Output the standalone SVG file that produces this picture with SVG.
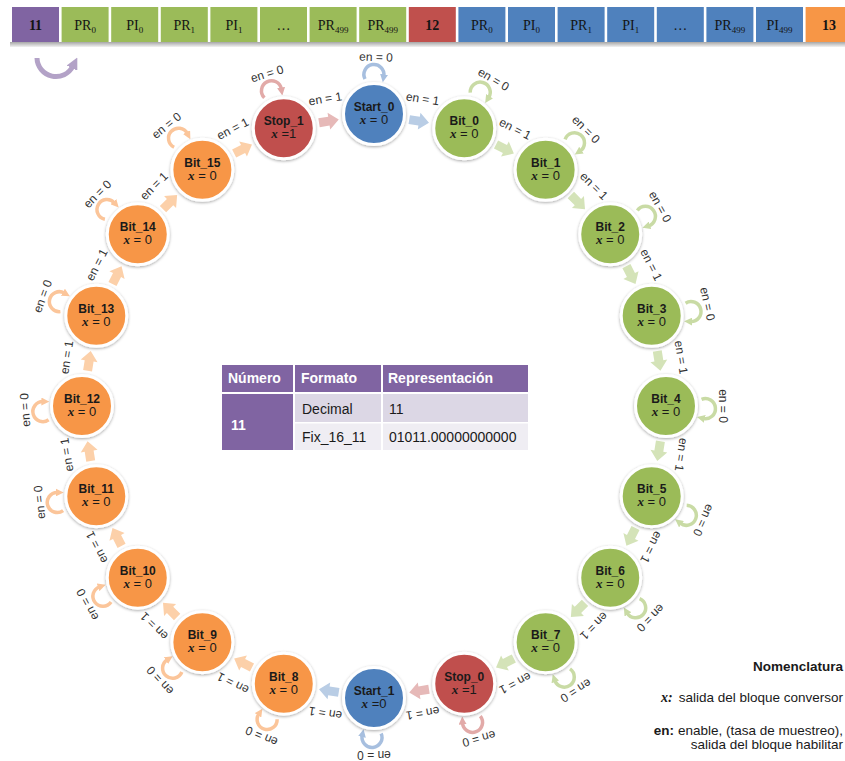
<svg xmlns="http://www.w3.org/2000/svg" xmlns:xlink="http://www.w3.org/1999/xlink" width="845" height="761" viewBox="0 0 845 761">
<style>
.bx{stroke:none}
.bt{font-family:"Liberation Serif","DejaVu Serif",serif;font-size:14px;fill:#141414;text-anchor:middle}
.bn{font-family:"Liberation Serif","DejaVu Serif",serif;font-size:14px;font-weight:bold;fill:#141414;text-anchor:middle}
.nm{font-family:"Liberation Sans",Arial,sans-serif;font-size:12px;font-weight:bold;fill:#1a1a1a;text-anchor:middle}
.xv{font-family:"Liberation Sans",Arial,sans-serif;font-size:13px;fill:#1a1a1a;text-anchor:middle}
.xi{font-family:"Liberation Serif","DejaVu Serif",serif;font-style:italic;font-weight:bold}
.lb{font-family:"Liberation Sans",Arial,sans-serif;font-size:12px;fill:#333;text-anchor:middle}
.nd circle{stroke:#fff;stroke-width:3;filter:url(#sh)}
.cB{fill:#4f81bd}.cG{fill:#9bbb59}.cR{fill:#c0504d}.cO{fill:#f79646}
.lp{fill:none;stroke-width:3.5}
.lB{stroke:#a7bfdf;marker-end:url(#mB)}.lG{stroke:#c9dba5;marker-end:url(#mG)}
.lR{stroke:#e2aaa8;marker-end:url(#mR)}.lO{stroke:#fbc59a;marker-end:url(#mO)}
.tB{fill:#b9cde5}.tG{fill:#d4e3b8}.tR{fill:#e6b9b8}.tO{fill:#fcd0a9}
.th{font-family:"Liberation Sans",Arial,sans-serif;font-size:14px;font-weight:bold;fill:#fff}
.td{font-family:"Liberation Sans",Arial,sans-serif;font-size:14px;fill:#1a1a1a}
.lg{font-family:"Liberation Sans",Arial,sans-serif;font-size:13.5px;fill:#1a1a1a;text-anchor:end}
</style>
<defs>
<filter id="sh" x="-40%" y="-40%" width="180%" height="180%"><feDropShadow dx="0" dy="1" stdDeviation="1.8" flood-color="#000" flood-opacity="0.35"/></filter>
<marker id="mB" viewBox="0 0 10 10" refX="2" refY="5" markerUnits="userSpaceOnUse" markerWidth="8" markerHeight="8" orient="auto"><path d="M0,0L10,5L0,10z" fill="#a7bfdf"/></marker>
<marker id="mG" viewBox="0 0 10 10" refX="2" refY="5" markerUnits="userSpaceOnUse" markerWidth="8" markerHeight="8" orient="auto"><path d="M0,0L10,5L0,10z" fill="#c9dba5"/></marker>
<marker id="mR" viewBox="0 0 10 10" refX="2" refY="5" markerUnits="userSpaceOnUse" markerWidth="8" markerHeight="8" orient="auto"><path d="M0,0L10,5L0,10z" fill="#e2aaa8"/></marker>
<marker id="mO" viewBox="0 0 10 10" refX="2" refY="5" markerUnits="userSpaceOnUse" markerWidth="8" markerHeight="8" orient="auto"><path d="M0,0L10,5L0,10z" fill="#fbc59a"/></marker>
<marker id="mP" viewBox="0 0 10 10" refX="2" refY="5" markerUnits="userSpaceOnUse" markerWidth="12" markerHeight="12" orient="auto"><path d="M0,0L10,5L0,10z" fill="#b3a2c7"/></marker>
<polygon id="ar" points="-10,-4.5 0,-4.5 0,-8.5 10,0 0,8.5 0,4.5 -10,4.5"/>
<path id="loop" d="M-9,-35 A10,10 0 1 1 9.8,-38"/>
<linearGradient id="shd" x1="0" y1="0" x2="0" y2="1"><stop offset="0" stop-color="#a6a6a6"/><stop offset="1" stop-color="#f2f2f2"/></linearGradient>
</defs>
<rect width="845" height="761" fill="#fff"/>

<!-- top bar -->
<g id="bar">
<rect x="10" y="42" width="835" height="5" fill="url(#shd)"/>
<rect class="bx" x="12" y="7" width="47" height="35" fill="#8064a2"/><text class="bn" x="35.5" y="30">11</text>
<rect class="bx" x="61.6" y="7" width="47" height="35" fill="#9bbb59"/><text class="bt" x="85.1" y="30">PR<tspan font-size="9" dy="3">0</tspan></text>
<rect class="bx" x="111.2" y="7" width="47" height="35" fill="#9bbb59"/><text class="bt" x="134.7" y="30">PI<tspan font-size="9" dy="3">0</tspan></text>
<rect class="bx" x="160.8" y="7" width="47" height="35" fill="#9bbb59"/><text class="bt" x="184.3" y="30">PR<tspan font-size="9" dy="3">1</tspan></text>
<rect class="bx" x="210.4" y="7" width="47" height="35" fill="#9bbb59"/><text class="bt" x="233.9" y="30">PI<tspan font-size="9" dy="3">1</tspan></text>
<rect class="bx" x="260" y="7" width="47" height="35" fill="#9bbb59"/><text class="bt" x="283.5" y="30">…</text>
<rect class="bx" x="309.6" y="7" width="47" height="35" fill="#9bbb59"/><text class="bt" x="333.1" y="30">PR<tspan font-size="9" dy="3">499</tspan></text>
<rect class="bx" x="359.2" y="7" width="47" height="35" fill="#9bbb59"/><text class="bt" x="382.7" y="30">PR<tspan font-size="9" dy="3">499</tspan></text>
<rect class="bx" x="408.8" y="7" width="47" height="35" fill="#c0504d"/><text class="bn" x="432.3" y="30">12</text>
<rect class="bx" x="458.4" y="7" width="47" height="35" fill="#4f81bd"/><text class="bt" x="481.9" y="30">PR<tspan font-size="9" dy="3">0</tspan></text>
<rect class="bx" x="508" y="7" width="47" height="35" fill="#4f81bd"/><text class="bt" x="531.5" y="30">PI<tspan font-size="9" dy="3">0</tspan></text>
<rect class="bx" x="557.6" y="7" width="47" height="35" fill="#4f81bd"/><text class="bt" x="581.1" y="30">PR<tspan font-size="9" dy="3">1</tspan></text>
<rect class="bx" x="607.2" y="7" width="47" height="35" fill="#4f81bd"/><text class="bt" x="630.7" y="30">PI<tspan font-size="9" dy="3">1</tspan></text>
<rect class="bx" x="656.8" y="7" width="47" height="35" fill="#4f81bd"/><text class="bt" x="680.3" y="30">…</text>
<rect class="bx" x="706.4" y="7" width="47" height="35" fill="#4f81bd"/><text class="bt" x="729.9" y="30">PR<tspan font-size="9" dy="3">499</tspan></text>
<rect class="bx" x="756" y="7" width="47" height="35" fill="#4f81bd"/><text class="bt" x="779.5" y="30">PI<tspan font-size="9" dy="3">499</tspan></text>
<rect class="bx" x="805.6" y="7" width="47" height="35" fill="#f79646"/><text class="bn" x="829.1" y="30">13</text>
<path d="M37,58 A19,19 0 0 0 73,66" fill="none" stroke="#b3a2c7" stroke-width="5" marker-end="url(#mP)"/>
</g>

<!-- connectors -->
<g id="connectors">
<g transform="translate(374 406)">
<use xlink:href="#ar" class="tB" transform="rotate(9) translate(0 -288.4)"/>
<use xlink:href="#ar" class="tG" transform="rotate(27) translate(0 -288.4)"/>
<use xlink:href="#ar" class="tG" transform="rotate(45) translate(0 -288.4)"/>
<use xlink:href="#ar" class="tG" transform="rotate(63) translate(0 -288.4)"/>
<use xlink:href="#ar" class="tG" transform="rotate(81) translate(0 -288.4)"/>
<use xlink:href="#ar" class="tG" transform="rotate(99) translate(0 -288.4)"/>
<use xlink:href="#ar" class="tG" transform="rotate(117) translate(0 -288.4)"/>
<use xlink:href="#ar" class="tG" transform="rotate(135) translate(0 -288.4)"/>
<use xlink:href="#ar" class="tG" transform="rotate(153) translate(0 -288.4)"/>
<use xlink:href="#ar" class="tR" transform="rotate(171) translate(0 -288.4)"/>
<use xlink:href="#ar" class="tB" transform="rotate(189) translate(0 -288.4)"/>
<use xlink:href="#ar" class="tO" transform="rotate(207) translate(0 -288.4)"/>
<use xlink:href="#ar" class="tO" transform="rotate(225) translate(0 -288.4)"/>
<use xlink:href="#ar" class="tO" transform="rotate(243) translate(0 -288.4)"/>
<use xlink:href="#ar" class="tO" transform="rotate(261) translate(0 -288.4)"/>
<use xlink:href="#ar" class="tO" transform="rotate(279) translate(0 -288.4)"/>
<use xlink:href="#ar" class="tO" transform="rotate(297) translate(0 -288.4)"/>
<use xlink:href="#ar" class="tO" transform="rotate(315) translate(0 -288.4)"/>
<use xlink:href="#ar" class="tO" transform="rotate(333) translate(0 -288.4)"/>
<use xlink:href="#ar" class="tR" transform="rotate(351) translate(0 -288.4)"/>
<text class="lb" transform="rotate(9)" x="0" y="-307">en = 1</text>
<text class="lb" transform="rotate(27)" x="0" y="-307">en = 1</text>
<text class="lb" transform="rotate(45)" x="0" y="-307">en = 1</text>
<text class="lb" transform="rotate(63)" x="0" y="-307">en = 1</text>
<text class="lb" transform="rotate(81)" x="0" y="-307">en = 1</text>
<text class="lb" transform="rotate(99)" x="0" y="-307">en = 1</text>
<text class="lb" transform="rotate(117)" x="0" y="-307">en = 1</text>
<text class="lb" transform="rotate(135)" x="0" y="-307">en = 1</text>
<text class="lb" transform="rotate(153)" x="0" y="-307">en = 1</text>
<text class="lb" transform="rotate(171)" x="0" y="-307">en = 1</text>
<text class="lb" transform="rotate(189)" x="0" y="-307">en = 1</text>
<text class="lb" transform="rotate(207)" x="0" y="-307">en = 1</text>
<text class="lb" transform="rotate(225)" x="0" y="-307">en = 1</text>
<text class="lb" transform="rotate(243)" x="0" y="-307">en = 1</text>
<text class="lb" transform="rotate(261)" x="0" y="-307">en = 1</text>
<text class="lb" transform="rotate(279)" x="0" y="-307">en = 1</text>
<text class="lb" transform="rotate(297)" x="0" y="-307">en = 1</text>
<text class="lb" transform="rotate(315)" x="0" y="-307">en = 1</text>
<text class="lb" transform="rotate(333)" x="0" y="-307">en = 1</text>
<text class="lb" transform="rotate(351)" x="0" y="-307">en = 1</text>
</g>
</g>

<!-- nodes -->
<g id="start0" class="nd" transform="translate(374 406) rotate(0) translate(0 -292) rotate(0)">
<use xlink:href="#loop" class="lp lB" transform="rotate(0)"/><text class="lb" transform="rotate(2)" y="-53">en = 0</text>
<circle class="cB" r="30.5"/><text class="nm" y="-3">Start_0</text><text class="xv" y="10"><tspan class="xi">x</tspan> = 0</text></g>
<g id="bit0" class="nd" transform="translate(374 406) rotate(18) translate(0 -292) rotate(-18)">
<use xlink:href="#loop" class="lp lG" transform="rotate(24)"/><text class="lb" transform="rotate(31)" y="-53">en = 0</text>
<circle class="cG" r="30.5"/><text class="nm" y="-3">Bit_0</text><text class="xv" y="10"><tspan class="xi">x</tspan> = 0</text></g>
<g id="bit1" class="nd" transform="translate(374 406) rotate(36) translate(0 -292) rotate(-36)">
<use xlink:href="#loop" class="lp lG" transform="rotate(47)"/><text class="lb" transform="rotate(45)" y="-53">en = 0</text>
<circle class="cG" r="30.5"/><text class="nm" y="-3">Bit_1</text><text class="xv" y="10"><tspan class="xi">x</tspan> = 0</text></g>
<g id="bit2" class="nd" transform="translate(374 406) rotate(54) translate(0 -292) rotate(-54)">
<use xlink:href="#loop" class="lp lG" transform="rotate(63)"/><text class="lb" transform="rotate(61)" y="-53">en = 0</text>
<circle class="cG" r="30.5"/><text class="nm" y="-3">Bit_2</text><text class="xv" y="10"><tspan class="xi">x</tspan> = 0</text></g>
<g id="bit3" class="nd" transform="translate(374 406) rotate(72) translate(0 -292) rotate(-72)">
<use xlink:href="#loop" class="lp lG" transform="rotate(84)"/><text class="lb" transform="rotate(78)" y="-53">en = 0</text>
<circle class="cG" r="30.5"/><text class="nm" y="-3">Bit_3</text><text class="xv" y="10"><tspan class="xi">x</tspan> = 0</text></g>
<g id="bit4" class="nd" transform="translate(374 406) rotate(90) translate(0 -292) rotate(-90)">
<use xlink:href="#loop" class="lp lG" transform="rotate(94)"/><text class="lb" transform="rotate(90)" y="-53">en = 0</text>
<circle class="cG" r="30.5"/><text class="nm" y="-3">Bit_4</text><text class="xv" y="10"><tspan class="xi">x</tspan> = 0</text></g>
<g id="bit5" class="nd" transform="translate(374 406) rotate(108) translate(0 -292) rotate(-108)">
<use xlink:href="#loop" class="lp lG" transform="rotate(119)"/><text class="lb" transform="rotate(115)" y="-53">en = 0</text>
<circle class="cG" r="30.5"/><text class="nm" y="-3">Bit_5</text><text class="xv" y="10"><tspan class="xi">x</tspan> = 0</text></g>
<g id="bit6" class="nd" transform="translate(374 406) rotate(126) translate(0 -292) rotate(-126)">
<use xlink:href="#loop" class="lp lG" transform="rotate(140)"/><text class="lb" transform="rotate(135)" y="-53">en = 0</text>
<circle class="cG" r="30.5"/><text class="nm" y="-3">Bit_6</text><text class="xv" y="10"><tspan class="xi">x</tspan> = 0</text></g>
<g id="bit7" class="nd" transform="translate(374 406) rotate(144) translate(0 -292) rotate(-144)">
<use xlink:href="#loop" class="lp lG" transform="rotate(152)"/><text class="lb" transform="rotate(148)" y="-53">en = 0</text>
<circle class="cG" r="30.5"/><text class="nm" y="-3">Bit_7</text><text class="xv" y="10"><tspan class="xi">x</tspan> = 0</text></g>
<g id="stop0" class="nd" transform="translate(374 406) rotate(162) translate(0 -292) rotate(-162)">
<use xlink:href="#loop" class="lp lR" transform="rotate(168)"/><text class="lb" transform="rotate(165)" y="-53">en = 0</text>
<circle class="cR" r="30.5"/><text class="nm" y="-3">Stop_0</text><text class="xv" y="10"><tspan class="xi">x</tspan> =1</text></g>
<g id="start1" class="nd" transform="translate(374 406) rotate(180) translate(0 -292) rotate(-180)">
<use xlink:href="#loop" class="lp lB" transform="rotate(183)"/><text class="lb" transform="rotate(180)" y="-53">en = 0</text>
<circle class="cB" r="30.5"/><text class="nm" y="-3">Start_1</text><text class="xv" y="10"><tspan class="xi">x</tspan> =0</text></g>
<g id="bit8" class="nd" transform="translate(374 406) rotate(198) translate(0 -292) rotate(-198)">
<use xlink:href="#loop" class="lp lO" transform="rotate(205)"/><text class="lb" transform="rotate(203)" y="-53">en = 0</text>
<circle class="cO" r="30.5"/><text class="nm" y="-3">Bit_8</text><text class="xv" y="10"><tspan class="xi">x</tspan> = 0</text></g>
<g id="bit9" class="nd" transform="translate(374 406) rotate(216) translate(0 -292) rotate(-216)">
<use xlink:href="#loop" class="lp lO" transform="rotate(229)"/><text class="lb" transform="rotate(228)" y="-53">en = 0</text>
<circle class="cO" r="30.5"/><text class="nm" y="-3">Bit_9</text><text class="xv" y="10"><tspan class="xi">x</tspan> = 0</text></g>
<g id="bit10" class="nd" transform="translate(374 406) rotate(234) translate(0 -292) rotate(-234)">
<use xlink:href="#loop" class="lp lO" transform="rotate(242)"/><text class="lb" transform="rotate(242)" y="-53">en = 0</text>
<circle class="cO" r="30.5"/><text class="nm" y="-3">Bit_10</text><text class="xv" y="10"><tspan class="xi">x</tspan> = 0</text></g>
<g id="bit11" class="nd" transform="translate(374 406) rotate(252) translate(0 -292) rotate(-252)">
<use xlink:href="#loop" class="lp lO" transform="rotate(261)"/><text class="lb" transform="rotate(264)" y="-53">en = 0</text>
<circle class="cO" r="30.5"/><text class="nm" y="-3">Bit_11</text><text class="xv" y="10"><tspan class="xi">x</tspan> = 0</text></g>
<g id="bit12" class="nd" transform="translate(374 406) rotate(270) translate(0 -292) rotate(-270)">
<use xlink:href="#loop" class="lp lO" transform="rotate(262)"/><text class="lb" transform="rotate(266)" y="-53">en = 0</text>
<circle class="cO" r="30.5"/><text class="nm" y="-3">Bit_12</text><text class="xv" y="10"><tspan class="xi">x</tspan> = 0</text></g>
<g id="bit13" class="nd" transform="translate(374 406) rotate(288) translate(0 -292) rotate(-288)">
<use xlink:href="#loop" class="lp lO" transform="rotate(291)"/><text class="lb" transform="rotate(290)" y="-53">en = 0</text>
<circle class="cO" r="30.5"/><text class="nm" y="-3">Bit_13</text><text class="xv" y="10"><tspan class="xi">x</tspan> = 0</text></g>
<g id="bit14" class="nd" transform="translate(374 406) rotate(306) translate(0 -292) rotate(-306)">
<use xlink:href="#loop" class="lp lO" transform="rotate(309)"/><text class="lb" transform="rotate(315)" y="-53">en = 0</text>
<circle class="cO" r="30.5"/><text class="nm" y="-3">Bit_14</text><text class="xv" y="10"><tspan class="xi">x</tspan> = 0</text></g>
<g id="bit15" class="nd" transform="translate(374 406) rotate(324) translate(0 -292) rotate(-324)">
<use xlink:href="#loop" class="lp lO" transform="rotate(323)"/><text class="lb" transform="rotate(321)" y="-53">en = 0</text>
<circle class="cO" r="30.5"/><text class="nm" y="-3">Bit_15</text><text class="xv" y="10"><tspan class="xi">x</tspan> = 0</text></g>
<g id="stop1" class="nd" transform="translate(374 406) rotate(342) translate(0 -292) rotate(-342)">
<use xlink:href="#loop" class="lp lR" transform="rotate(342)"/><text class="lb" transform="rotate(343)" y="-53">en = 0</text>
<circle class="cR" r="30.5"/><text class="nm" y="-3">Stop_1</text><text class="xv" y="10"><tspan class="xi">x</tspan> =1</text></g>

<!-- table -->
<g id="table">
<rect x="222" y="365" width="71" height="27" fill="#8064a2"/>
<rect x="295" y="365" width="86" height="27" fill="#8064a2"/>
<rect x="383" y="365" width="145" height="27" fill="#8064a2"/>
<rect x="222" y="394" width="71" height="56" fill="#8064a2"/>
<rect x="295" y="394" width="86" height="28" fill="#dcd7e5"/>
<rect x="383" y="394" width="145" height="28" fill="#dcd7e5"/>
<rect x="295" y="423.5" width="86" height="26.5" fill="#efedf3"/>
<rect x="383" y="423.5" width="145" height="26.5" fill="#efedf3"/>
<text class="th" x="228" y="383">Número</text>
<text class="th" x="301" y="383">Formato</text>
<text class="th" x="388" y="383">Representación</text>
<text class="th" x="231" y="430">11</text>
<text class="td" x="302" y="414">Decimal</text>
<text class="td" x="389" y="414">11</text>
<text class="td" x="302" y="442">Fix_16_11</text>
<text class="td" x="389" y="442">01011.00000000000</text>
</g>

<!-- legend -->
<g id="legend">
<text class="lg" x="843" y="671" font-weight="bold">Nomenclatura</text>
<text class="lg" x="843" y="702"><tspan class="xi" font-size="14">x:</tspan><tspan dx="6">salida del bloque conversor</tspan></text>
<text class="lg" x="843" y="735"><tspan font-weight="bold">en:</tspan><tspan dx="4">enable, (tasa de muestreo),</tspan></text>
<text class="lg" x="843" y="749">salida del bloque habilitar</text>
</g>
</svg>
